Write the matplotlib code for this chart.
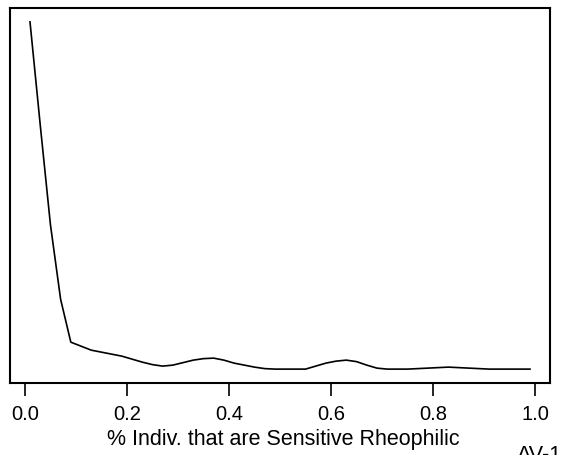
import matplotlib
matplotlib.use("Agg")
import matplotlib.pyplot as plt
import numpy as np

plt.rcParams['font.family'] = ['Liberation Sans', 'DejaVu Sans']

# density-like curve, sampled every 0.02
pct_x = [0.01, 0.03, 0.05, 0.07, 0.09, 0.11, 0.13, 0.15, 0.17, 0.19,
         0.21, 0.23, 0.25, 0.27, 0.29, 0.31, 0.33, 0.35, 0.37, 0.39,
         0.41, 0.43, 0.45, 0.47, 0.49, 0.51, 0.53, 0.55, 0.57, 0.59,
         0.61, 0.63, 0.65, 0.67, 0.69, 0.71, 0.73, 0.75, 0.77, 0.79,
         0.81, 0.83, 0.85, 0.87, 0.89, 0.91, 0.93, 0.95, 0.97, 0.99]
dens_y = [348, 245, 145, 70, 27, 23, 19, 17, 15, 13,
          10, 7, 4.5, 3, 4, 6.5, 9, 10.5, 11, 9,
          6, 4, 2, 0.5, 0, 0, 0, 0, 3, 6,
          8, 9, 7.5, 4, 1, 0, 0, 0, 0.5, 1,
          1.5, 2, 1.5, 1, 0.5, 0, 0, 0, 0, 0]
xticks = [0.0, 0.2, 0.4, 0.6, 0.8, 1.0]
xlabel = "% Indiv. that are Sensitive Rheophilic"
corner_text = "AV-1"

W, H = 562, 455
fig = plt.figure(figsize=(W / 100, H / 100), dpi=100)
ax = fig.add_axes([10 / W, (H - 383) / H, 540 / W, 375 / H])

ax.plot(pct_x, dens_y, color="black", lw=1.2)

# R-style 4% padding
xr = max(pct_x) - min(pct_x)
yr = max(dens_y) - min(dens_y)
ax.set_xlim(min(pct_x) - 0.04 * xr, max(pct_x) + 0.04 * xr)
ax.set_ylim(min(dens_y) - 0.04 * yr, max(dens_y) + 0.04 * yr)

ax.set_xticks(xticks)
ax.set_xticklabels([f"{t:.1f}" for t in xticks], fontsize=14.5)
ax.set_yticks([])
ax.tick_params(axis="x", length=9, width=1.2, pad=7)
for s in ax.spines.values():
    s.set_linewidth(1.5)

fig.text(283 / W, 1 - 440 / H, xlabel, ha="center", va="center", fontsize=15.5)
fig.text(517 / W, 1 - 445 / H, corner_text, ha="left", va="top", fontsize=15.5)

fig.savefig("out.png", dpi=100)
